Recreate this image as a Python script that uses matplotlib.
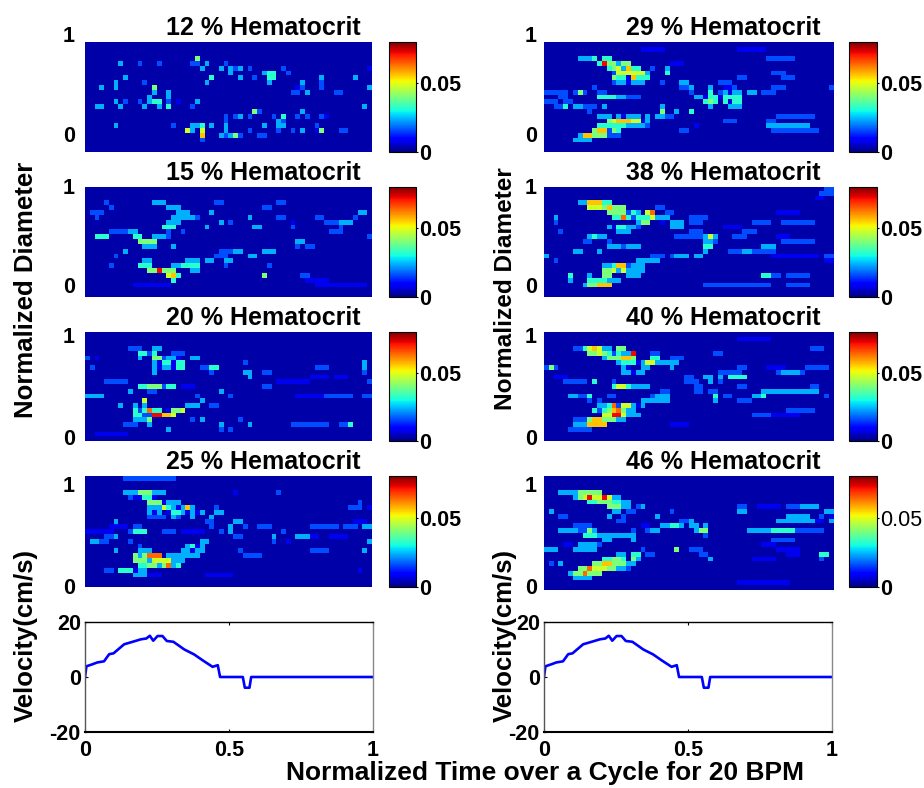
import numpy as np
import matplotlib
matplotlib.use("Agg")
import matplotlib.pyplot as plt

plt.rcParams['font.family'] = ['Liberation Sans', 'DejaVu Sans']
plt.rcParams['font.weight'] = 'bold'

W, H = 924, 788
N_COLS = 60
LEVEL = 0.008      # one intensity step of the run tables
BACKGROUND = 0.003
VMAX = 0.08

# Each entry: (row from the top, first column, last column, intensity step)
hct12 = [(13,2,3,3),(12,6,6,3),(13,7,7,3),(12,8,8,2),(12,11,11,2),(13,12,12,3),(11,13,13,3),(12,13,13,3),(12,14,15,4),(13,15,15,3),
 (10,17,17,3),(11,17,17,3),(12,17,17,2),(13,17,17,4),(12,19,19,1),(12,23,23,3),(13,22,22,2),(9,14,14,5),(10,14,14,3),(8,6,6,3),(9,6,6,3),
 (9,3,3,3),(7,8,8,3),(4,7,7,3),(4,11,11,2),(4,15,15,2),(8,12,12,2),(3,23,23,5),(4,23,23,2),(4,22,22,2),(4,25,25,3),(5,24,24,3),(7,26,26,4),
 (8,25,25,3),(5,28,28,3),(4,29,29,2),(5,30,30,3),(6,30,30,3),(5,31,31,2),(5,32,32,3),(7,32,32,3),(5,34,34,2),(7,35,35,2),(6,38,39,4),(7,38,39,4),
 (6,37,37,3),(8,38,38,3),(5,41,41,2),(6,42,42,2),(8,45,45,3),(9,44,44,1),(10,46,46,3),(10,43,43,2),(10,44,44,2),(9,45,45,2),(7,49,49,3),(8,49,49,2),
 (9,49,49,2),(10,52,53,2),(7,56,56,3),(5,59,59,1),(9,59,59,3),(13,58,58,3),(14,35,35,5),(15,34,34,2),(14,36,36,2),(15,32,32,3),(15,31,31,2),(15,29,29,2),
 (16,29,29,2),(17,29,29,3),(18,29,29,3),(15,41,41,4),(16,41,41,2),(16,40,40,3),(15,39,39,2),(14,45,45,3),(15,44,44,2),(15,46,46,2),(17,40,41,3),(18,40,40,2),
 (18,45,45,3),(18,49,49,5),(18,48,48,1),(18,53,54,2),(17,37,37,3),(19,36,37,2),(19,31,31,5),(19,30,30,3),(19,32,32,2),(19,29,29,2),(19,28,28,3),(17,24,24,4),
 (18,24,24,6),(19,24,24,7),(20,24,24,2),(18,21,21,6),(17,22,23,3),(18,22,22,3),(17,26,26,3),(17,18,18,2),(17,6,6,3),(18,34,34,2),(18,43,43,2),(17,48,48,2),(15,49,49,2),(15,50,50,1)]

hct15 = [(3,14,16,3),(4,17,19,3),(5,19,21,3),(6,19,22,3),(6,22,23,2),(6,18,18,3),(8,16,18,4),(7,17,19,3),(9,17,17,2),(9,20,20,2),(10,2,4,4),(9,5,9,2),(9,9,10,3),
 (10,10,11,4),(11,11,14,5),(12,12,14,3),(10,14,16,3),(10,16,17,2),(12,18,18,3),(13,8,8,3),(14,6,6,2),(16,5,5,2),(15,12,13,3),(16,11,13,4),(17,13,14,5),(17,15,15,9),
 (17,16,17,5),(18,17,17,6),(18,18,18,7),(17,18,18,5),(18,19,19,4),(19,18,18,4),(16,18,20,3),(16,20,23,4),(15,21,23,3),(17,22,23,3),(15,25,26,3),(14,27,29,2),(13,28,32,2),
 (15,29,30,3),(16,29,29,2),(13,31,32,3),(14,34,35,3),(13,37,39,3),(18,37,37,5),(16,38,38,2),(7,28,28,3),(7,30,30,2),(8,25,25,3),(6,34,34,3),(8,35,36,3),(5,26,26,3),(3,27,28,2),
 (4,37,38,2),(3,40,41,2),(6,40,41,2),(8,43,43,2),(7,43,43,1),(11,44,45,3),(12,44,44,2),(12,46,47,2),(18,45,46,2),(6,48,49,2),(7,50,52,2),(7,53,55,3),(8,53,53,2),(9,52,52,2),
 (9,51,53,2),(5,57,58,3),(6,56,56,2),(5,1,3,2),(6,2,2,2),(3,4,4,2),(4,5,5,2),(20,48,58,1),(19,46,50,1),(10,59,59,2),(20,10,17,1)]

hct20 = [(3,9,11,2),(4,11,14,4),(3,14,15,3),(5,14,16,5),(6,14,15,3),(6,16,20,4),(5,17,19,3),(7,14,15,3),(8,14,14,3),(7,16,17,3),(7,19,20,4),(4,18,20,2),(5,22,23,3),(7,24,25,2),
 (7,26,27,4),(8,26,26,2),(8,33,34,3),(9,34,34,3),(8,37,38,2),(6,33,33,2),(5,11,11,3),(11,11,18,4),(11,13,15,5),(12,13,14,2),(11,20,22,1),(12,9,9,3),(13,0,3,3),(10,4,8,2),
 (14,12,12,6),(15,12,12,3),(16,13,13,8),(17,14,15,9),(16,14,15,4),(17,16,17,7),(17,18,18,6),(16,18,19,5),(16,20,20,6),(16,10,12,4),(17,10,11,4),(18,10,12,3),(18,13,13,5),(19,13,13,3),
 (15,10,10,3),(15,7,7,3),(19,8,10,2),(20,17,17,3),(15,21,23,3),(14,24,24,3),(13,23,23,2),(18,24,24,3),(18,22,22,2),(15,26,27,2),(19,28,28,3),(20,28,28,2),(20,30,30,2),(18,32,32,2),
 (19,34,34,3),(12,28,28,3),(13,30,30,2),(11,37,38,2),(19,53,54,2),(19,55,55,4),(19,43,50,2),(7,48,50,2),(9,47,50,1),(6,58,58,3),(7,58,58,3),(8,58,58,2),(10,59,59,2),(13,44,50,1),
 (13,50,55,2),(13,58,59,2),(9,52,54,1),(5,0,0,2),(5,2,2,1),(7,1,1,2),(21,2,8,1),(10,40,46,1)]

hct25 = [(0,8,18,2),(3,8,10,3),(3,11,13,5),(4,9,9,2),(4,12,13,4),(3,14,16,3),(5,13,15,5),(6,15,15,3),(6,16,16,6),(6,17,17,4),(5,17,19,3),(6,18,20,3),(7,18,19,4),(6,21,21,7),(7,20,20,2),
 (6,22,22,3),(7,22,22,3),(8,22,22,3),(7,24,24,3),(6,13,14,3),(7,13,15,3),(8,13,14,2),(8,16,16,2),(8,18,18,3),(7,20,20,3),(8,19,19,2),(8,15,15,2),(7,27,28,3),(6,27,27,2),(8,26,26,3),
 (9,25,26,2),(9,31,32,3),(9,6,6,3),(10,33,33,2),(11,10,12,4),(10,10,11,2),(11,16,18,2),(11,0,5,1),(10,5,8,1),(11,20,24,1),(10,26,26,2),(11,28,28,2),(10,30,30,3),(11,30,30,3),(12,31,32,2),
 (10,36,38,2),(12,39,39,3),(13,39,39,2),(13,1,2,3),(13,3,4,2),(12,4,6,2),(12,6,6,3),(11,9,9,2),(13,9,9,2),(15,6,6,3),(19,4,5,2),(14,11,11,2),(15,11,13,3),(16,10,14,5),(16,13,13,8),
 (16,14,15,8),(17,10,13,5),(17,14,15,6),(17,16,17,6),(18,17,17,8),(18,13,16,5),(18,11,12,4),(18,18,18,3),(19,8,12,3),(19,7,9,4),(18,19,19,4),(17,18,20,3),(16,17,21,3),(15,20,23,3),(14,21,24,3),
 (13,24,25,3),(15,22,22,4),(14,22,22,4),(16,22,23,3),(15,24,24,3),(20,10,12,3),(20,13,15,1),(20,25,30,1),(15,32,32,2),(16,33,36,2),(11,41,41,2),(13,42,42,1),(12,44,46,3),(12,46,48,1),
 (10,47,52,2),(10,54,56,2),(9,56,58,1),(10,58,59,3),(5,57,57,2),(6,55,57,2),(6,59,59,1),(13,59,59,3),(15,58,58,3),(15,47,50,2),(3,40,40,2),(3,31,31,1),(12,51,54,1),(19,57,57,1)]

hct29 = [(3,7,9,3),(3,10,10,4),(4,11,12,4),(3,12,13,4),(4,13,14,5),(4,12,12,9),(5,13,14,4),(4,15,16,3),(5,14,15,5),(5,15,16,6),(5,17,17,7),(6,15,17,6),(4,16,17,5),(7,15,16,4),(6,18,20,6),(5,18,19,4),
 (7,18,21,4),(7,18,18,7),(8,18,18,3),(7,14,14,5),(8,14,14,2),(8,15,17,3),(8,19,20,3),(6,21,21,3),(5,22,22,2),(6,25,25,4),(5,25,25,3),(4,26,28,1),(8,24,24,2),(8,28,29,3),(9,28,29,2),(9,30,30,3),(10,30,30,2),
 (11,11,14,4),(11,15,16,3),(11,17,19,2),(10,12,12,2),(10,6,8,2),(10,7,7,5),(9,10,10,2),(10,11,11,2),(10,0,4,2),(11,3,4,2),(12,0,2,2),(13,2,3,2),(12,4,5,2),(13,4,4,4),(13,6,7,3),(13,8,10,2),(14,9,9,2),(13,12,12,3),
 (15,11,13,3),(15,15,19,3),(16,13,17,5),(16,14,15,6),(16,15,17,7),(17,15,16,4),(16,18,19,6),(17,19,20,3),(17,11,14,4),(18,10,14,5),(18,11,12,7),(19,10,12,5),(19,8,9,7),(19,7,7,3),(20,6,9,3),(18,13,15,4),(19,13,15,2),(17,16,18,3),
 (15,21,21,3),(16,21,21,3),(17,21,21,2),(15,23,24,3),(13,24,24,3),(14,24,24,5),(15,25,26,2),(14,27,27,3),(14,30,30,4),(17,31,31,1),(18,28,29,2),(11,31,33,3),(11,34,35,4),(10,34,34,4),(9,34,34,3),(12,33,35,4),(12,34,34,5),(13,34,34,3),
 (11,36,36,3),(10,36,36,2),(10,37,40,3),(11,37,40,4),(12,37,40,4),(13,38,40,3),(9,39,39,2),(10,42,43,3),(9,37,38,1),(8,36,38,2),(7,40,41,2),(10,45,47,2),(9,47,49,2),(3,46,51,2),(6,47,49,2),(7,49,51,2),(15,48,55,2),(17,46,54,3),(18,47,56,2),
 (16,46,47,2),(1,40,45,1),(1,20,24,1),(9,59,59,2),(16,37,39,2)]

hct38 = [(3,9,11,7),(3,7,8,3),(4,9,11,6),(4,12,14,5),(3,12,13,4),(4,13,13,7),(5,13,16,5),(4,15,16,5),(6,14,19,4),(5,16,18,4),(6,16,16,8),(5,18,19,3),(6,20,22,4),(6,22,22,6),(5,21,22,6),(5,22,22,8),(6,23,25,3),(7,19,20,3),(7,20,21,5),
 (4,23,24,2),(5,25,26,2),(7,26,28,3),(8,27,28,3),(7,24,24,2),(8,19,19,2),(8,26,28,3),(6,30,33,2),(7,30,32,2),(8,13,18,3),(8,15,16,4),(9,15,17,3),(10,9,12,3),(10,10,10,4),(11,8,9,2),(12,13,19,3),(11,13,13,2),(13,6,7,3),(13,11,11,3),
 (6,2,2,3),(7,2,2,2),(9,3,3,2),(14,0,0,3),(15,2,2,2),(18,5,5,4),(19,5,5,3),(16,12,13,3),(16,14,17,4),(16,15,16,7),(17,14,16,6),(17,12,13,5),(18,12,13,5),(19,11,12,4),(18,17,19,3),(17,17,20,3),(16,18,20,3),(15,19,23,3),(15,20,21,2),
 (20,9,10,5),(20,11,13,7),(20,8,8,3),(19,9,10,4),(19,13,15,3),(18,9,9,3),(14,22,26,2),(14,27,28,3),(14,29,32,3),(10,33,35,3),(10,34,34,6),(11,33,34,3),(12,33,34,4),(13,33,33,3),(11,34,35,2),(10,27,32,2),(9,30,32,2),(8,37,40,1),(10,39,41,2),
 (13,38,40,2),(13,41,42,3),(9,41,43,2),(7,43,46,2),(13,43,44,2),(12,45,47,3),(13,45,47,2),(11,49,55,2),(10,48,50,1),(7,49,55,2),(5,48,52,1),(14,47,56,1),(18,45,46,4),(18,47,48,2),(18,50,54,2),(20,33,37,2),(20,38,46,2),(20,50,54,2),(1,57,59,2),
 (0,58,59,2),(2,56,57,1),(15,58,59,1),(14,58,59,2)]

hct40 = [(3,6,8,2),(3,8,10,4),(3,9,11,6),(3,10,10,7),(4,9,12,5),(4,11,11,6),(3,12,13,3),(4,13,15,4),(3,15,16,5),(5,12,13,3),(5,13,15,5),(4,16,18,3),(5,15,18,5),(5,16,17,7),(4,18,18,9),(6,15,21,3),(6,16,18,4),(6,22,25,3),(5,22,23,4),(6,21,22,6),
 (4,22,23,2),(6,25,27,3),(7,26,26,3),(5,26,28,2),(7,16,18,3),(8,16,20,3),(7,20,21,3),(7,0,2,2),(7,1,1,5),(11,14,17,4),(11,15,16,6),(10,14,14,2),(11,18,21,3),(10,10,10,4),(10,4,8,2),(9,2,4,1),(13,9,9,4),(14,9,9,2),(13,5,6,3),(13,7,8,2),(14,11,11,2),(13,13,14,2),
 (15,11,12,3),(16,10,13,4),(15,13,15,4),(16,14,15,7),(16,13,13,5),(15,14,14,8),(17,12,16,6),(17,14,15,9),(16,15,15,8),(16,16,16,5),(15,16,17,6),(16,17,18,3),(15,18,20,3),(14,20,23,3),(18,9,14,5),(19,9,12,7),(18,10,11,7),(19,6,8,3),(20,5,9,2),(18,6,8,2),(18,15,16,3),
 (17,17,19,3),(13,23,25,3),(14,24,25,3),(13,22,22,2),(12,24,25,2),(19,26,29,1),(9,29,30,2),(10,29,31,2),(11,31,32,2),(9,33,36,3),(10,34,34,3),(8,36,38,2),(9,38,41,4),(8,38,40,2),(10,34,36,2),(12,31,32,2),(13,35,35,4),(14,35,35,3),(13,37,38,2),(12,34,35,2),(7,40,41,2),
 (11,40,41,2),(4,35,36,2),(14,40,42,2),(13,43,44,3),(13,45,45,4),(12,45,49,3),(12,50,56,3),(11,55,56,2),(7,46,49,1),(8,48,53,2),(8,49,52,3),(7,54,57,2),(7,57,58,2),(3,55,57,2),(17,43,46,2),(17,47,52,1),(16,50,55,2),(13,58,58,2),(1,40,46,1)]

hct46 = [(3,3,4,3),(3,5,7,3),(3,7,9,5),(3,9,11,5),(4,6,8,3),(4,7,8,5),(3,10,10,2),(3,8,9,4),(4,8,9,6),(4,9,9,9),(4,10,12,6),(4,12,13,6),(4,12,12,9),(5,9,12,4),(5,11,13,5),(5,14,15,4),(4,14,15,3),(6,13,15,5),(6,15,16,3),(5,16,17,3),(6,17,17,3),(7,14,15,3),(6,19,20,2),(7,17,18,2),(6,20,20,3),
 (7,1,1,3),(8,3,4,2),(8,13,13,3),(8,16,16,2),(9,15,16,2),(8,23,23,3),(7,26,26,2),(9,28,29,2),(11,3,6,3),(11,7,9,2),(10,6,9,2),(11,9,10,3),(12,8,10,4),(11,9,9,5),(12,11,14,3),(13,12,13,3),(12,15,18,3),(13,18,18,3),(11,18,18,2),(10,20,21,1),(11,21,22,2),(11,22,23,3),(10,24,25,3),(10,26,27,4),(10,28,28,3),
 (9,30,30,3),(10,30,31,3),(11,31,33,3),(11,32,33,5),(10,33,33,3),(12,33,33,2),(14,7,10,3),(15,6,10,3),(14,10,11,2),(15,0,2,3),(14,4,5,1),(18,3,3,3),(18,1,1,2),(17,12,16,4),(16,15,16,3),(17,14,15,5),(18,10,16,5),(18,12,13,7),(17,13,14,4),(19,7,8,5),(19,9,12,6),(19,9,9,8),(19,13,14,5),(20,6,8,5),(20,9,11,5),(20,8,8,8),
 (20,5,5,3),(21,6,9,3),(19,15,16,3),(18,17,18,3),(17,18,19,3),(16,18,19,4),(17,18,18,5),(16,21,22,2),(15,20,20,2),(19,17,17,2),(15,27,27,5),(15,30,32,2),(16,32,33,2),(17,34,34,3),(16,57,58,4),(17,57,57,2),(6,40,41,2),(7,40,41,3),(6,44,48,1),(6,50,53,2),(6,53,56,3),(9,48,55,3),(9,49,51,3),(8,50,54,3),(11,42,47,3),(11,47,51,4),
 (11,51,55,2),(11,56,57,2),(9,55,57,1),(7,58,59,3),(8,57,57,2),(9,59,59,3),(13,47,51,2),(15,48,52,1),(17,43,47,1),(16,50,52,1),(8,59,59,1),(14,45,47,1),(22,40,50,1)]

# Darker cells inside the clusters: (row, first column, last column, intensity step)
gaps20 = [(5,16,16,2),(6,15,15,1),(6,18,18,1),(7,18,18,1),(7,15,15,1),(5,19,19,1),(4,13,13,2),(11,16,16,2),(17,12,13,2),(16,17,17,1),(16,11,11,2)]
gaps25 = [(4,10,11,1),(4,14,14,1),(5,16,16,1),(6,19,19,1),(7,21,21,1),(7,17,17,1),(8,17,17,0),(7,23,23,1),(5,20,21,0),(7,14,14,1),(16,11,11,3),(17,13,13,3),(15,22,22,1),(14,23,23,1),(18,15,15,3),(19,10,10,1)]
gaps29 = [(6,14,14,2),(5,16,16,3),(7,17,17,1),(8,17,17,1),(11,36,36,1),(10,38,38,1),(12,36,36,0),(12,38,38,1),(11,33,33,1),(16,20,20,1),(18,13,13,2),(15,16,16,1)]
gaps38 = [(6,18,18,2),(5,17,17,2),(7,24,24,1),(12,16,16,2),(8,14,14,1),(17,15,15,3),(16,17,17,2),(14,25,25,0),(14,30,30,0)]
gaps40 = [(7,18,18,0),(7,17,17,1),(6,19,19,1),(8,18,18,1),(4,14,14,2),(16,11,11,2),(15,15,15,2),(15,19,19,1),(9,35,35,0),(10,35,35,0)]

titles = ["12 % Hematocrit","15 % Hematocrit","20 % Hematocrit","25 % Hematocrit",
          "29 % Hematocrit","38 % Hematocrit","40 % Hematocrit","46 % Hematocrit"]
panels = [hct12,hct15,hct20,hct25,hct29,hct38,hct40,hct46]
panel_gaps = [[],[],gaps20,gaps25,gaps29,gaps38,gaps40,[]]
n_rows = [23,23,23,23,23,23,23,24]

velocity_t = [0,0.005,0.025,0.043,0.066,0.084,0.099,0.136,0.159,0.194,0.213,0.225,0.237,0.252,0.269,0.284,0.307,0.345,0.379,0.408,0.443,0.461,0.469,0.548,0.555,0.571,0.577,1]
velocity_v = [0,3.9,4.6,5.3,5.7,8.3,8.6,11.9,12.6,13.7,14.0,15.0,13.2,14.9,14.9,13.1,12.8,10.0,8.2,6.1,3.7,4.3,0,0,-3.9,-3.9,0,0]

# layout in reference pixels: axes x0,x1, colorbar x0,x1, tick-label x, label x, label y, label size
col_x = [(85,372,389,416,69,26,290,18.5),(544,833,849,877,531,505,289,17.6)]
row_y = [(42,152,37,136),(187,297,188,287),(332,441,337,439),(476,587,487,588)]
row_y_46 = (476,590,486,588)
line_y = (622,732)

fig = plt.figure(figsize=(W/100,H/100),dpi=100,facecolor='white')

def px_axes(x0,x1,y0,y1):
    return fig.add_axes([x0/W,1-y1/H,(x1-x0)/W,(y1-y0)/H])

def grid(runs,gaps,rows):
    a = np.full((rows,N_COLS),BACKGROUND)
    for r,c0,c1,l in runs:
        a[r,c0:c1+1] = np.maximum(a[r,c0:c1+1],l*LEVEL)
    for r,c0,c1,l in gaps:
        a[r,c0:c1+1] = max(l*LEVEL,BACKGROUND)
    return a

TICK = 15.5
for i,(runs,title) in enumerate(zip(panels,titles)):
    cx = col_x[i//4]
    y0,y1,y_one,y_zero = row_y_46 if i==7 else row_y[i%4]
    ax = px_axes(cx[0],cx[1],y0,y1)
    scale = y_zero-y_one
    lo,hi = (y_zero-y1)/scale,(y_zero-y0)/scale
    im = ax.imshow(grid(runs,panel_gaps[i],n_rows[i]),cmap='jet',vmin=0,vmax=VMAX,aspect='auto',
                   extent=(0,1,lo,hi),interpolation='nearest')
    ax.set_xlim(0,1); ax.set_ylim(lo,hi)
    ax.set_xticks([]); ax.set_yticks([])
    for s in ax.spines.values(): s.set_visible(False)
    for v,lab in ((0,'0'),(1,'1')):
        ax.annotate(lab,xy=(0,v),xycoords=('axes fraction','data'),
                    xytext=(cx[4]/W,0),textcoords=('figure fraction','offset points'),
                    ha='center',va='center',fontsize=TICK,annotation_clip=False)
    ax.set_title(title,x=276/(cx[1]-cx[0]),ha='right',fontsize=18,fontweight='bold',pad=5)
    cax = px_axes(cx[2],cx[3],y0,587 if i==7 else y1)
    cb = fig.colorbar(im,cax=cax,ticks=[0,0.05])
    cb.ax.set_yticklabels(['0','0.05'],fontsize=TICK,fontweight='bold')
    if i==7:
        cb.ax.get_yticklabels()[1].set_fontweight('normal')
    cb.ax.tick_params(length=1.5,width=0.8,pad=1,direction='out')
    cb.outline.set_linewidth(0.8)

for cx in col_x:
    fig.text(cx[5]/W,1-cx[6]/H,'Normalized Diameter',rotation=90,ha='center',va='center',
             fontsize=cx[7],fontweight='bold')
    fig.text(cx[5]/W,1-636/H,'Velocity(cm/s)',rotation=90,ha='center',va='center',fontsize=18.5,fontweight='bold')
    ax = px_axes(cx[0],cx[0]+288,*line_y)
    ax.plot(velocity_t,velocity_v,color='#0000ff',lw=1.9)
    ax.set_xlim(0,1); ax.set_ylim(-20,20)
    ax.set_xticks([0,0.5,1],['0','0.5','1'],fontsize=TICK,fontweight='bold')
    ax.set_yticks([-20,0,20],['-20','0','20'],fontsize=TICK,fontweight='bold')
    ax.tick_params(direction='in',length=2,width=0.8,top=True,right=True)
    ax.tick_params(axis='x',pad=6)
    ax.tick_params(axis='y',pad=3)
    for k in ('left','right','top','bottom'):
        ax.spines[k].set_linewidth(1.0)
    ax.spines['right'].set_color('#888888')
    ax.spines['left'].set_color('#555555')
    ax.spines['bottom'].set_linewidth(1.5)

fig.text(545/W,1-773/H,'Normalized Time over a Cycle for 20 BPM',ha='center',va='center',fontsize=19,fontweight='bold')
fig.savefig('out.png',dpi=100)
